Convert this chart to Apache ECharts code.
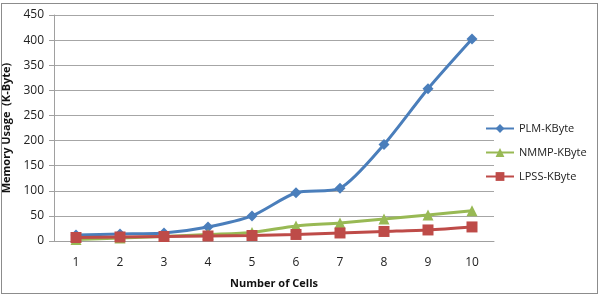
<!DOCTYPE html>
<html>
<head>
<meta charset="utf-8">
<script src="https://cdn.jsdelivr.net/npm/echarts@6/dist/echarts.min.js"></script>
<style>
  html, body { margin: 0; padding: 0; background: #fff; }
  #frame { position: absolute; left: 1px; top: 3px; width: 595px; height: 289px; border: 1px solid #8c8c8c; }
  #chart { position: absolute; left: 0; top: 0; width: 605px; height: 300px; }
</style>
</head>
<body>
<div id="frame"></div>
<div id="chart"></div>
<script>
const cells = ['1', '2', '3', '4', '5', '6', '7', '8', '9', '10'];
const plm = [12, 14, 16, 28, 50, 96, 105, 192, 303, 402];
const nmmp = [3, 6, 9, 13, 17, 30, 36, 44, 52, 60];
const lpss = [7, 8, 9, 10, 11, 13, 16, 19, 22, 28];
const yTicks = { min: 0, max: 450, interval: 50 };

const chart = echarts.init(document.getElementById('chart'));
const font = 'Open Sans, Liberation Sans, sans-serif';

function line(name, data, color, symbol, size) {
    return {
        name: name,
        type: 'line',
        data: data,
        symbol: symbol,
        symbolSize: size,
        lineStyle: { color: color, width: 3 },
        itemStyle: { color: color },
        smooth: 0.25,
        z: 3
    };
}

chart.setOption({
    animation: false,
    grid: { left: 54, right: 111, top: 15, bottom: 59, outerBoundsMode: 'none', containLabel: false },
    legend: {
        orient: 'vertical',
        left: 480,
        top: 118,
        itemGap: 13,
        itemWidth: 28,
        itemHeight: 11,
        textStyle: { fontFamily: font, fontSize: 11, color: '#222' },
        data: ['PLM-KByte', 'NMMP-KByte', 'LPSS-KByte']
    },
    xAxis: {
        type: 'category',
        data: cells,
        boundaryGap: true,
        name: 'Number of Cells',
        nameLocation: 'middle',
        nameGap: 37,
        nameTextStyle: { fontFamily: font, fontSize: 11, fontWeight: 'bold', color: '#111' },
        axisLine: { lineStyle: { color: '#a0a0a0' } },
        axisTick: { show: false },
        axisLabel: { fontFamily: font, fontSize: 12, color: '#222', margin: 16 }
    },
    yAxis: {
        type: 'value',
        min: yTicks.min,
        max: yTicks.max,
        interval: yTicks.interval,
        name: 'Memory Usage  (K-Byte)',
        nameLocation: 'middle',
        nameGap: 40,
        nameTextStyle: { fontFamily: font, fontSize: 11, fontWeight: 'bold', color: '#111' },
        axisLine: { show: true, lineStyle: { color: '#a0a0a0' } },
        axisTick: { show: true, length: 5, lineStyle: { color: '#a0a0a0' } },
        axisLabel: { fontFamily: font, fontSize: 12, color: '#222', margin: 10 },
        splitLine: { lineStyle: { color: '#a6a6a6' } }
    },
    series: [
        line('PLM-KByte', plm, '#4a7ebb', 'diamond', 11),
        line('NMMP-KByte', nmmp, '#98b954', 'triangle', 11),
        line('LPSS-KByte', lpss, '#be4b48', 'rect', 11)
    ]
});
</script>
</body>
</html>
